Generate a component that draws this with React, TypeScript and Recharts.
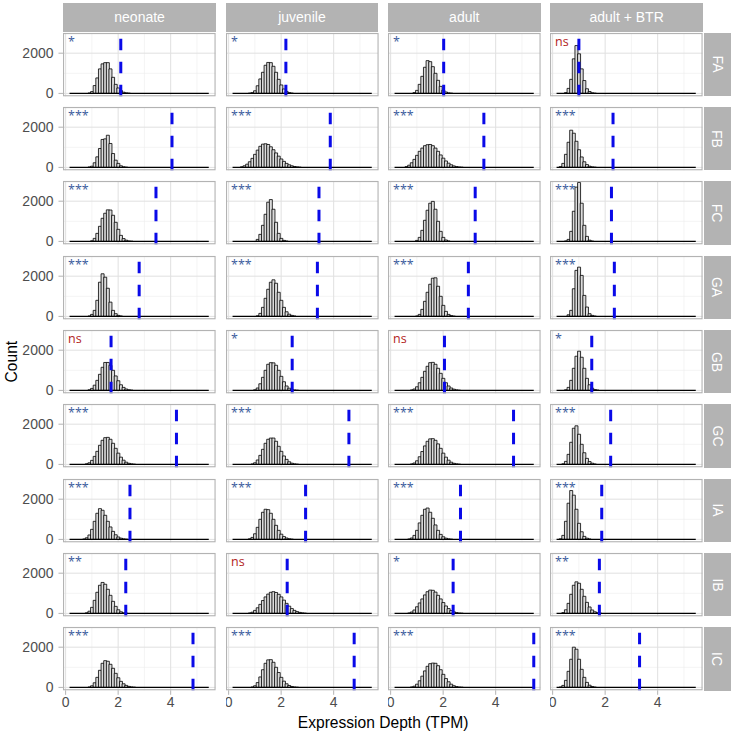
import { BarChart, Bar, XAxis, YAxis, CartesianGrid, ReferenceLine } from 'recharts'

const stages = ['neonate', 'juvenile', 'adult', 'adult + BTR']
const clusters = ['FA', 'FB', 'FC', 'GA', 'GB', 'GC', 'IA', 'IB', 'IC']

// one entry per panel: [centre of first non-empty bin, counts of 0.1 TPM bins]
type Hist = [number, number[]]

const histFA: Hist[] = [
  [0.9, [20, 90, 390, 770, 1220, 1470, 1530, 1530, 1220, 800, 450, 270, 140, 60, 25, 10]],
  [0.8, [10, 40, 130, 380, 720, 1050, 1400, 1540, 1530, 1350, 1050, 700, 420, 220, 100, 40, 15]],
  [0.9, [40, 150, 450, 850, 1300, 1630, 1580, 1330, 1000, 650, 350, 160, 70, 25, 10]],
  [0.5, [40, 250, 700, 1720, 2380, 1970, 1220, 640, 230, 95, 30, 10]],
]
const histFB: Hist[] = [
  [0.9, [20, 60, 230, 525, 940, 1390, 1420, 1600, 1190, 690, 360, 200, 80, 30, 10]],
  [0.5, [30, 80, 160, 280, 450, 650, 860, 1050, 1157, 1175, 1140, 1025, 880, 720, 560, 420, 300, 200, 130, 80, 45, 25, 10]],
  [0.6, [40, 110, 230, 400, 600, 800, 960, 1080, 1130, 1140, 1080, 960, 800, 620, 460, 320, 210, 130, 75, 40, 20, 8]],
  [0.3, [40, 200, 650, 1250, 1850, 1700, 1300, 880, 520, 280, 140, 60, 25, 10]],
]
const histFC: Hist[] = [
  [1.0, [30, 150, 400, 750, 1150, 1400, 1570, 1560, 1300, 950, 600, 300, 140, 60, 20, 8]],
  [1.1, [100, 350, 800, 1350, 1950, 2080, 1600, 950, 400, 150, 50, 15]],
  [1.0, [50, 200, 550, 1050, 1550, 1900, 1990, 1600, 1000, 500, 200, 70, 20]],
  [0.5, [20, 100, 500, 1500, 2700, 2930, 1900, 800, 250, 60, 15]],
]
const histGA: Hist[] = [
  [0.9, [20, 100, 300, 800, 1700, 2120, 1950, 1400, 710, 300, 135, 50, 20]],
  [1.1, [30, 150, 450, 900, 1350, 1700, 1820, 1650, 1200, 800, 450, 230, 110, 50, 20]],
  [1.0, [20, 100, 350, 750, 1200, 1600, 1900, 1920, 1500, 1000, 550, 250, 100, 40, 12]],
  [0.6, [80, 300, 1375, 2290, 2450, 2040, 1045, 465, 134, 50, 15]],
]
const histGB: Hist[] = [
  [0.9, [30, 100, 260, 500, 800, 1150, 1390, 1390, 1250, 1000, 720, 480, 280, 150, 70, 30, 12]],
  [1.0, [30, 120, 330, 650, 1000, 1300, 1380, 1370, 1250, 1000, 700, 430, 220, 110, 50, 20, 8]],
  [0.8, [20, 70, 180, 380, 650, 950, 1200, 1380, 1395, 1300, 1100, 850, 600, 380, 220, 120, 60, 25, 10]],
  [0.5, [30, 150, 500, 1100, 1700, 1950, 1650, 1100, 600, 280, 110, 40, 15]],
]
const histGC: Hist[] = [
  [0.8, [30, 80, 200, 400, 650, 950, 1200, 1330, 1345, 1250, 1050, 800, 560, 360, 210, 110, 55, 25, 10]],
  [0.9, [20, 80, 220, 450, 750, 1050, 1250, 1310, 1310, 1150, 900, 650, 420, 250, 130, 60, 25, 10]],
  [0.8, [20, 70, 180, 380, 640, 920, 1150, 1270, 1280, 1200, 1020, 800, 560, 360, 210, 110, 55, 25, 10]],
  [0.4, [30, 150, 500, 1100, 1800, 1920, 1500, 1000, 580, 300, 140, 60, 20]],
]
const histIA: Hist[] = [
  [0.7, [20, 80, 220, 500, 900, 1300, 1530, 1450, 1200, 900, 620, 400, 230, 120, 60, 25, 10]],
  [0.8, [30, 100, 280, 600, 1000, 1350, 1500, 1480, 1300, 1000, 700, 450, 260, 140, 70, 30, 12]],
  [0.7, [20, 70, 200, 450, 820, 1200, 1500, 1560, 1350, 1050, 720, 450, 250, 130, 60, 25, 10]],
  [0.3, [30, 200, 900, 1800, 2430, 2200, 1500, 800, 380, 150, 60, 20]],
]
const histIB: Hist[] = [
  [0.8, [30, 110, 300, 650, 1050, 1400, 1540, 1450, 1200, 900, 600, 350, 180, 80, 30, 10]],
  [0.8, [20, 60, 150, 280, 450, 640, 820, 960, 1050, 1080, 1040, 950, 820, 660, 500, 360, 240, 150, 90, 50, 25, 10]],
  [0.7, [20, 70, 170, 330, 520, 720, 920, 1080, 1160, 1150, 1060, 900, 720, 540, 370, 240, 140, 80, 40, 18, 8]],
  [0.4, [40, 180, 500, 950, 1400, 1570, 1500, 1200, 850, 550, 320, 170, 80, 35, 12]],
]
const histIC: Hist[] = [
  [0.9, [20, 80, 230, 500, 850, 1200, 1330, 1300, 1150, 950, 700, 480, 300, 180, 100, 50, 22, 10]],
  [0.9, [20, 80, 240, 520, 880, 1200, 1370, 1380, 1250, 1000, 740, 500, 310, 180, 95, 45, 20, 8]],
  [0.8, [20, 60, 160, 330, 560, 820, 1050, 1180, 1210, 1200, 1080, 880, 650, 440, 280, 160, 85, 40, 18, 8]],
  [0.3, [20, 100, 350, 800, 1400, 2000, 1900, 1400, 900, 500, 250, 110, 45, 15]],
]
const hists = [histFA, histFB, histFC, histGA, histGB, histGC, histIA, histIB, histIC]

// observed expression depth (dashed line), rows = clusters, cols = stages
const observed = [
  [2.1, 2.18, 2.02, 1.0],
  [4.05, 3.87, 3.55, 2.3],
  [3.44, 3.44, 3.22, 2.24],
  [2.8, 3.38, 2.96, 2.35],
  [1.73, 2.42, 2.05, 1.49],
  [4.22, 4.58, 4.68, 2.21],
  [2.45, 2.93, 2.66, 1.87],
  [2.29, 2.23, 2.38, 1.78],
  [4.85, 4.78, 5.45, 3.31],
]
const signif = [
  ['*', '*', '*', 'ns'],
  ['***', '***', '***', '***'],
  ['***', '***', '***', '***'],
  ['***', '***', '***', '***'],
  ['ns', '*', 'ns', '*'],
  ['***', '***', '***', '***'],
  ['***', '***', '***', '***'],
  ['**', 'ns', '*', '**'],
  ['***', '***', '***', '***'],
]

const BIN = 0.1
const HIST_RANGE = [0.15, 5.45]
const xTicks = [0, 2, 4]
const xMinor = [1, 3, 5]
const yTicks = [0, 2000]
const yMinor = [1000, 3000]
const X_DOMAIN = [-0.1, 5.71]
const Y_DOMAIN = [-144, 3005]

// layout (px)
const X0 = 63.3
const PX = 162.35
const PW = 152.6
const Y0 = 32.5
const PY = 74.37
const PH = 63.3
const YAXIS_W = 60
const XAXIS_H = 24
const PAD = 8 // room above/below the plot so tick labels are not clipped

const FONT = '"Liberation Sans", Arial, Helvetica, sans-serif'
const GREY = '#b3b3b3'

function Panel({ r, c }: { r: number; c: number }) {
  const [start, counts] = hists[r][c]
  const data = counts.map((n, i) => ({ x: Math.round((start + i * BIN) * 100) / 100, n }))
  const left = X0 + c * PX
  const top = Y0 + r * PY
  const yw = c === 0 ? YAXIS_W : 0
  const xh = r === clusters.length - 1 ? XAXIS_H : 0
  const sig = signif[r][c]
  return (
    <>
      <div style={{ position: 'absolute', left: left - yw, top: top - PAD }}>
        <BarChart width={PW + yw} height={PH + PAD + (xh || PAD)} data={data}
          margin={{ top: PAD, right: 0, bottom: xh ? 0 : PAD, left: 0 }}
          barCategoryGap={0} barGap={0}>
          <CartesianGrid verticalValues={xMinor} horizontalValues={yMinor} stroke="#ededed" strokeWidth={0.6} />
          <CartesianGrid verticalValues={xTicks} horizontalValues={yTicks} stroke="#e0e0e0" strokeWidth={1} />
          <XAxis type="number" dataKey="x" domain={X_DOMAIN} allowDataOverflow ticks={xTicks} interval={0} hide={xh === 0}
            height={xh} axisLine={false} tickLine={{ stroke: GREY }} tickSize={4.5} tickMargin={2}
            tick={{ fill: '#4d4d4d', fontSize: 14 }} />
          <YAxis type="number" domain={Y_DOMAIN} allowDataOverflow ticks={yTicks} interval={0} hide={yw === 0}
            width={yw} axisLine={false} tickLine={{ stroke: GREY }} tickSize={4.5} tickMargin={5}
            tick={{ fill: '#4d4d4d', fontSize: 14 }} />
          <Bar dataKey="n" fill="#dcdcdc" stroke="#000" strokeWidth={0.8} isAnimationActive={false} />
          <ReferenceLine segment={[{ x: HIST_RANGE[0], y: 0 }, { x: HIST_RANGE[1], y: 0 }]} stroke="#000" strokeWidth={1.2} />
          <ReferenceLine x={observed[r][c]} stroke="#0a0ae8" strokeWidth={3} strokeDasharray="11.5 11.5" />
        </BarChart>
      </div>
      <svg style={{ position: 'absolute', left, top, overflow: 'visible' }} width={PW} height={PH}>
        <rect x={0.55} y={0.55} width={PW - 1.1} height={PH - 1.1} fill="none" stroke={GREY} strokeWidth={1.1} />
        <text x={5} y={12.5} fontSize={12.5} fontFamily='"Open Sans", sans-serif'
          fill={sig === 'ns' ? '#b22222' : '#3a5a9c'}>{sig}</text>
      </svg>
    </>
  )
}

export default function App() {
  return (
    <div style={{ position: 'absolute', left: 0, top: 0, width: 736, height: 737, background: '#fff', fontFamily: FONT }}>
      {stages.map((s, c) => (
        <div key={s} style={{
          position: 'absolute', left: X0 + c * PX, top: 3.3, width: PW, height: 28.4, background: GREY,
          color: '#fff', fontSize: 14, display: 'flex', alignItems: 'center', justifyContent: 'center',
        }}>{s}</div>
      ))}
      {clusters.map((k, r) => (
        <div key={k} style={{
          position: 'absolute', left: X0 + 3 * PX + PW + 0.6, top: Y0 + r * PY, width: 27.5, height: PH, background: GREY,
          color: '#fff', fontSize: 14, display: 'flex', alignItems: 'center', justifyContent: 'center',
        }}>
          <span style={{ transform: 'rotate(90deg)', whiteSpace: 'nowrap' }}>{k}</span>
        </div>
      ))}
      {clusters.map((k, r) => stages.map((s, c) => <Panel key={k + s} r={r} c={c} />))}
      <div style={{ position: 'absolute', left: 0, width: 736, top: 0, height: 737, pointerEvents: 'none' }}>
        <svg width={736} height={737}>
          <text x={X0 + (3 * PX + PW) / 2} y={728} textAnchor="middle" fontSize={15.6} fill="#000">Expression Depth (TPM)</text>
          <text transform={`translate(17, ${Y0 + (8 * PY + PH) / 2}) rotate(-90)`} textAnchor="middle" fontSize={15.6} fill="#000">Count</text>
        </svg>
      </div>
    </div>
  )
}
